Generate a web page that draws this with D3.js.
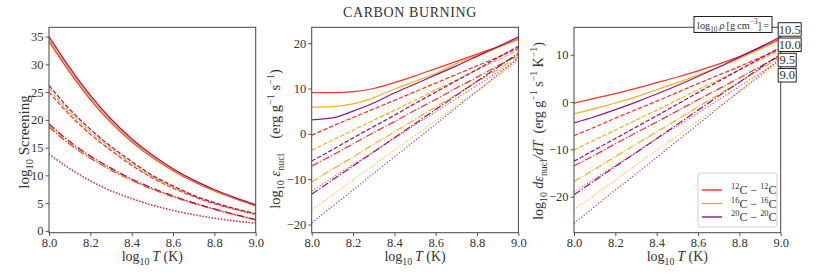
<!DOCTYPE html>
<html><head><meta charset="utf-8">
<script src="https://cdn.jsdelivr.net/npm/d3@7"></script>
<style>
body{margin:0;background:#fff}
svg{display:block}
text{font-family:"Liberation Serif","DejaVu Serif",serif;fill:#333}
</style></head>
<body><svg id="c" width="822" height="274" font-family='"Liberation Serif","DejaVu Serif",serif'></svg>
<script>
// ---------------- data ----------------
const logT = [8.0, 8.1, 8.2, 8.3, 8.4, 8.5, 8.6, 8.7, 8.8, 8.9, 9.0];
const densities = ["10.5", "10.0", "9.5", "9.0"];           // solid, dashed, dash-dot, dotted
const reactions = ["12C-12C", "16C-16C", "20C-20C"];
const xTicks = [8.0, 8.2, 8.4, 8.6, 8.8, 9.0];
const screenTicks = [0, 5, 10, 15, 20, 25, 30, 35];
const epsTicks = [-20, -10, 0, 10, 20];
const depsTicks = [-20, -10, 0, 10];

// log10 screening, one array per density (10.5, 10.0, 9.5, 9.0)
const screen_12C = [
  [34.1, 28.6, 23.65, 19.5, 16.05, 13.2, 10.85, 8.85, 7.2, 5.8, 4.5],
  [25.0, 20.9, 17.4, 14.5, 11.8, 9.55, 7.7, 6.15, 4.85, 3.85, 2.95],
  [18.7, 15.6, 13.1, 10.95, 9.1, 7.5, 6.1, 4.95, 3.85, 2.9, 2.0],
  [13.7, 11.15, 8.95, 7.15, 5.75, 4.6, 3.65, 2.9, 2.25, 1.75, 1.35]];
const screen_16C = [
  [34.5, 29.0, 24.0, 19.8, 16.3, 13.4, 11.0, 9.0, 7.3, 5.9, 4.6],
  [25.6, 21.4, 17.9, 14.9, 12.1, 9.8, 7.9, 6.3, 5.0, 3.95, 3.0],
  [19.0, 15.85, 13.3, 11.1, 9.2, 7.6, 6.2, 5.0, 3.9, 2.9, 2.0],
  [13.8, 11.2, 9.0, 7.2, 5.8, 4.6, 3.7, 2.9, 2.3, 1.8, 1.4]];
const screen_20C = [
  [35.0, 29.4, 24.4, 20.15, 16.6, 13.65, 11.2, 9.15, 7.45, 6.0, 4.7],
  [26.2, 21.9, 18.3, 15.2, 12.5, 10.0, 8.1, 6.4, 5.1, 4.0, 3.1],
  [19.3, 16.1, 13.5, 11.3, 9.35, 7.7, 6.3, 5.05, 3.95, 2.95, 2.05],
  [13.9, 11.3, 9.05, 7.25, 5.85, 4.65, 3.7, 2.95, 2.3, 1.8, 1.4]];

// log10 eps_nucl
const eps_12C = [
  [9.1, 9.1, 9.3, 10.0, 11.3, 12.8, 14.4, 16.0, 17.6, 19.2, 20.9],
  [-0.3, 1.7, 3.6, 5.5, 7.4, 9.3, 11.2, 13.1, 15.0, 16.9, 18.9],
  [-7.1, -4.7, -2.2, 0.3, 2.7, 5.2, 7.6, 10.1, 12.5, 15.0, 17.4],
  [-12.6, -9.7, -6.8, -3.9, -1.0, 2.0, 4.9, 7.8, 10.7, 13.6, 16.5]];
const eps_16C = [
  [5.9, 6.0, 6.6, 8.0, 9.9, 11.6, 13.3, 15.5, 17.3, 19.0, 20.8],
  [-3.6, -1.4, 0.8, 3.0, 5.2, 7.4, 9.7, 11.9, 14.1, 16.3, 18.5],
  [-10.6, -7.8, -5.1, -2.3, 0.4, 3.2, 5.96, 8.7, 11.5, 14.2, 17.0],
  [-16.8, -13.5, -10.2, -6.9, -3.6, -0.35, 2.9, 6.2, 9.5, 12.8, 16.1]];
const eps_20C = [
  [3.1, 3.5, 5.0, 6.8, 9.0, 11.0, 13.0, 15.0, 17.1, 19.2, 21.4],
  [-6.0, -3.5, -0.9, 1.6, 4.1, 6.7, 9.2, 11.7, 14.2, 16.8, 19.3],
  [-13.3, -10.2, -7.1, -4.0, -0.86, 2.25, 5.4, 8.5, 11.6, 14.7, 17.8],
  [-19.6, -16.0, -12.4, -8.7, -5.1, -1.5, 2.1, 5.8, 9.4, 13.0, 16.7]];

// log10 d eps_nucl / dT
const deps_12C = [
  [-0.2, 0.8, 1.8, 2.9, 4.1, 5.3, 6.6, 8.0, 9.6, 11.4, 13.4],
  [-7.1, -5.3, -3.4, -1.6, 0.2, 2.05, 3.9, 5.7, 7.5, 9.4, 11.2],
  [-13.5, -11.2, -8.8, -6.5, -4.2, -1.85, 0.5, 2.8, 5.1, 7.5, 9.8],
  [-19.0, -16.2, -13.4, -10.6, -7.8, -5.05, -2.3, 0.5, 3.3, 6.1, 8.9]];
const deps_16C = [
  [-2.5, -1.4, -0.2, 1.1, 2.6, 4.1, 5.7, 7.4, 9.2, 11.2, 13.2],
  [-10.1, -8.0, -5.9, -3.8, -1.7, 0.45, 2.6, 4.7, 6.8, 8.9, 11.0],
  [-16.8, -14.2, -11.5, -8.9, -6.3, -3.65, -1.0, 1.6, 4.2, 6.9, 9.5],
  [-22.7, -19.6, -16.5, -13.3, -10.2, -7.1, -4.0, -0.9, 2.3, 5.4, 8.5]];
const deps_20C = [
  [-4.4, -3.1, -1.6, 0.0, 1.7, 3.5, 5.4, 7.4, 9.5, 11.6, 13.8],
  [-12.5, -10.1, -7.7, -5.3, -2.9, -0.45, 2.0, 4.4, 6.8, 9.2, 11.6],
  [-19.6, -16.6, -13.6, -10.7, -7.7, -4.7, -1.7, 1.3, 4.2, 7.2, 10.2],
  [-25.6, -22.1, -18.6, -15.2, -11.7, -8.2, -4.7, -1.2, 2.2, 5.7, 9.2]];

// ---------------- drawing ----------------
const FONT = '"Liberation Serif","DejaVu Serif",serif';
const colors = ["#ff1a1a", "#ffa500", "#800080"];
const dashes = [null, "4.4,1.9", "7.4,1.9,1.2,1.9", "1.2,1.9"];
const svg = d3.select("#c");
const plotTop = 27.3, h = 205.4, w = 206.7;
const panels = [
  {x0: 49, dom: [-0.33, 36.68], ticks: screenTicks, data: [screen_12C, screen_16C, screen_20C]},
  {x0: 311.7, dom: [-21.8, 23.5], ticks: epsTicks, data: [eps_12C, eps_16C, eps_20C]},
  {x0: 574, dom: [-27.6, 15.8], ticks: depsTicks, data: [deps_12C, deps_16C, deps_20C]}];

const fmtMinus = v => (v < 0 ? "\u2212" + Math.abs(v) : "" + v);

// rich text: segments {t, sub, sup, i}
function rich(t, segs, fs) {
  let off = 0;
  segs.forEach(s => {
    const target = s.sub ? fs * 0.28 : s.sup ? -fs * 0.4 : 0;
    const ts = t.append("tspan").attr("dy", (target - off).toFixed(2)).text(s.t);
    if (s.sub || s.sup) ts.attr("font-size", fs * 0.7);
    if (s.i) ts.attr("font-style", "italic");
    off = target;
  });
}

panels.forEach((p, pi) => {
  const x = d3.scaleLinear().domain([8, 9]).range([p.x0, p.x0 + w]);
  const y = d3.scaleLinear().domain(p.dom).range([plotTop + h, plotTop]);
  const g = svg.append("g");
  const clipId = "clip" + pi;
  svg.append("clipPath").attr("id", clipId).append("rect")
    .attr("x", p.x0).attr("y", plotTop).attr("width", w).attr("height", h);
  const line = d3.line().x((d, i) => x(logT[i])).y(d => y(d)).curve(d3.curveMonotoneX);
  const lg = g.append("g").attr("clip-path", `url(#${clipId})`);
  for (let di = 0; di < densities.length; di++) {
    for (let ri = 0; ri < reactions.length; ri++) {
      lg.append("path").datum(p.data[ri][di])
        .attr("d", line).attr("fill", "none")
        .attr("stroke", colors[ri]).attr("stroke-width", 1.25)
        .attr("stroke-opacity", di === 3 ? 0.75 : 0.9)
        .attr("stroke-dasharray", dashes[di]);
    }
  }
  const xa = d3.axisBottom(x).tickValues(xTicks).tickFormat(d3.format(".1f")).tickSize(3.5).tickPadding(2);
  const ya = d3.axisLeft(y).tickValues(p.ticks).tickFormat(fmtMinus).tickSize(3.5).tickPadding(2);
  const gx = g.append("g").attr("transform", `translate(0,${plotTop + h})`).call(xa);
  const gy = g.append("g").attr("transform", `translate(${p.x0},0)`).call(ya);
  [gx, gy].forEach(a => {
    a.attr("font-family", FONT);
    a.select(".domain").remove();
    a.selectAll("line").attr("stroke", "#444").attr("stroke-width", 0.9);
    a.selectAll("text").attr("font-size", 12.5).attr("fill", "#333").style("font-family", FONT);
  });
  g.append("rect").attr("x", p.x0).attr("y", plotTop).attr("width", w).attr("height", h)
    .attr("fill", "none").attr("stroke", "#444").attr("stroke-width", 1);
  const xl = g.append("text").attr("x", p.x0 + w / 2).attr("y", 261).attr("text-anchor", "middle").attr("font-size", 14);
  rich(xl, [{t: "log"}, {t: "10", sub: 1}, {t: "\u2009"}, {t: "T", i: 1}, {t: " (K)"}], 14);
});

function ylabel(cx, cy, fs, segs) {
  const t = svg.append("text").attr("transform", `translate(${cx},${cy}) rotate(-90)`)
    .attr("text-anchor", "middle").attr("font-size", fs);
  rich(t, segs, fs);
}
ylabel(29, 142, 15, [{t: "log"}, {t: "10", sub: 1}, {t: " Screening"}]);
ylabel(280, 139, 14.5, [{t: "log"}, {t: "10", sub: 1}, {t: " \u03b5", i: 1}, {t: "nucl", sub: 1},
  {t: "\u2002\u2002(erg g"}, {t: "\u22121", sup: 1}, {t: " s"}, {t: "\u22121", sup: 1}, {t: ")"}]);
ylabel(543, 131, 14, [{t: "log"}, {t: "10", sub: 1}, {t: " d\u03b5", i: 1}, {t: "nucl", sub: 1},
  {t: "/dT", i: 1}, {t: "\u2002(erg g"}, {t: "\u22121", sup: 1}, {t: " s"}, {t: "\u22121", sup: 1},
  {t: " K"}, {t: "\u22121", sup: 1}, {t: ")"}]);

svg.append("text").attr("x", 410).attr("y", 17).attr("text-anchor", "middle")
  .attr("font-size", 14).attr("letter-spacing", 0.6).text("CARBON BURNING");

const xR = panels[2].x0 + w;
const boxG = svg.append("g");
boxG.append("rect").attr("x", 694).attr("y", 16.5).attr("width", 78).attr("height", 16)
  .attr("fill", "#fff").attr("stroke", "#222").attr("stroke-width", 1);
const ht = boxG.append("text").attr("x", 697).attr("y", 28.5).attr("font-size", 11)
  .attr("textLength", 72).attr("lengthAdjust", "spacingAndGlyphs");
rich(ht, [{t: "log"}, {t: "10", sub: 1}, {t: "\u2009"}, {t: "\u03c1", i: 1}, {t: "\u2009[g\u2009cm"}, {t: "\u22123", sup: 1}, {t: "]\u2009="}], 11);
const boxY = [22.7, 38, 53.3, 68.5];
densities.forEach((d, i) => {
  const bw = d.length > 3 ? 23 : 18;
  boxG.append("rect").attr("x", xR - 2.5).attr("y", boxY[i]).attr("width", bw).attr("height", 13.5)
    .attr("fill", "#fff").attr("stroke", "#222").attr("stroke-width", 1);
  boxG.append("text").attr("x", xR - 2.5 + bw / 2).attr("y", boxY[i] + 10.8)
    .attr("text-anchor", "middle").attr("font-size", 12.5).text(d);
});

const lgd = svg.append("g");
lgd.append("rect").attr("x", 698).attr("y", 173).attr("width", 79).attr("height", 54).attr("rx", 2.5)
  .attr("fill", "#fff").attr("fill-opacity", 0.85).attr("stroke", "#ccc").attr("stroke-width", 0.9);
const legY = [190, 203.5, 217];
reactions.forEach((r, i) => {
  lgd.append("line").attr("x1", 702).attr("x2", 722).attr("y1", legY[i]).attr("y2", legY[i])
    .attr("stroke", colors[i]).attr("stroke-width", 1.3);
  const [a, b] = r.split("-");
  const t = lgd.append("text").attr("x", 731).attr("y", legY[i] + 4).attr("font-size", 12);
  rich(t, [{t: a.replace("C", ""), sup: 1}, {t: "C \u2212 "}, {t: b.replace("C", ""), sup: 1}, {t: "C"}], 12);
});
</script></body></html>
